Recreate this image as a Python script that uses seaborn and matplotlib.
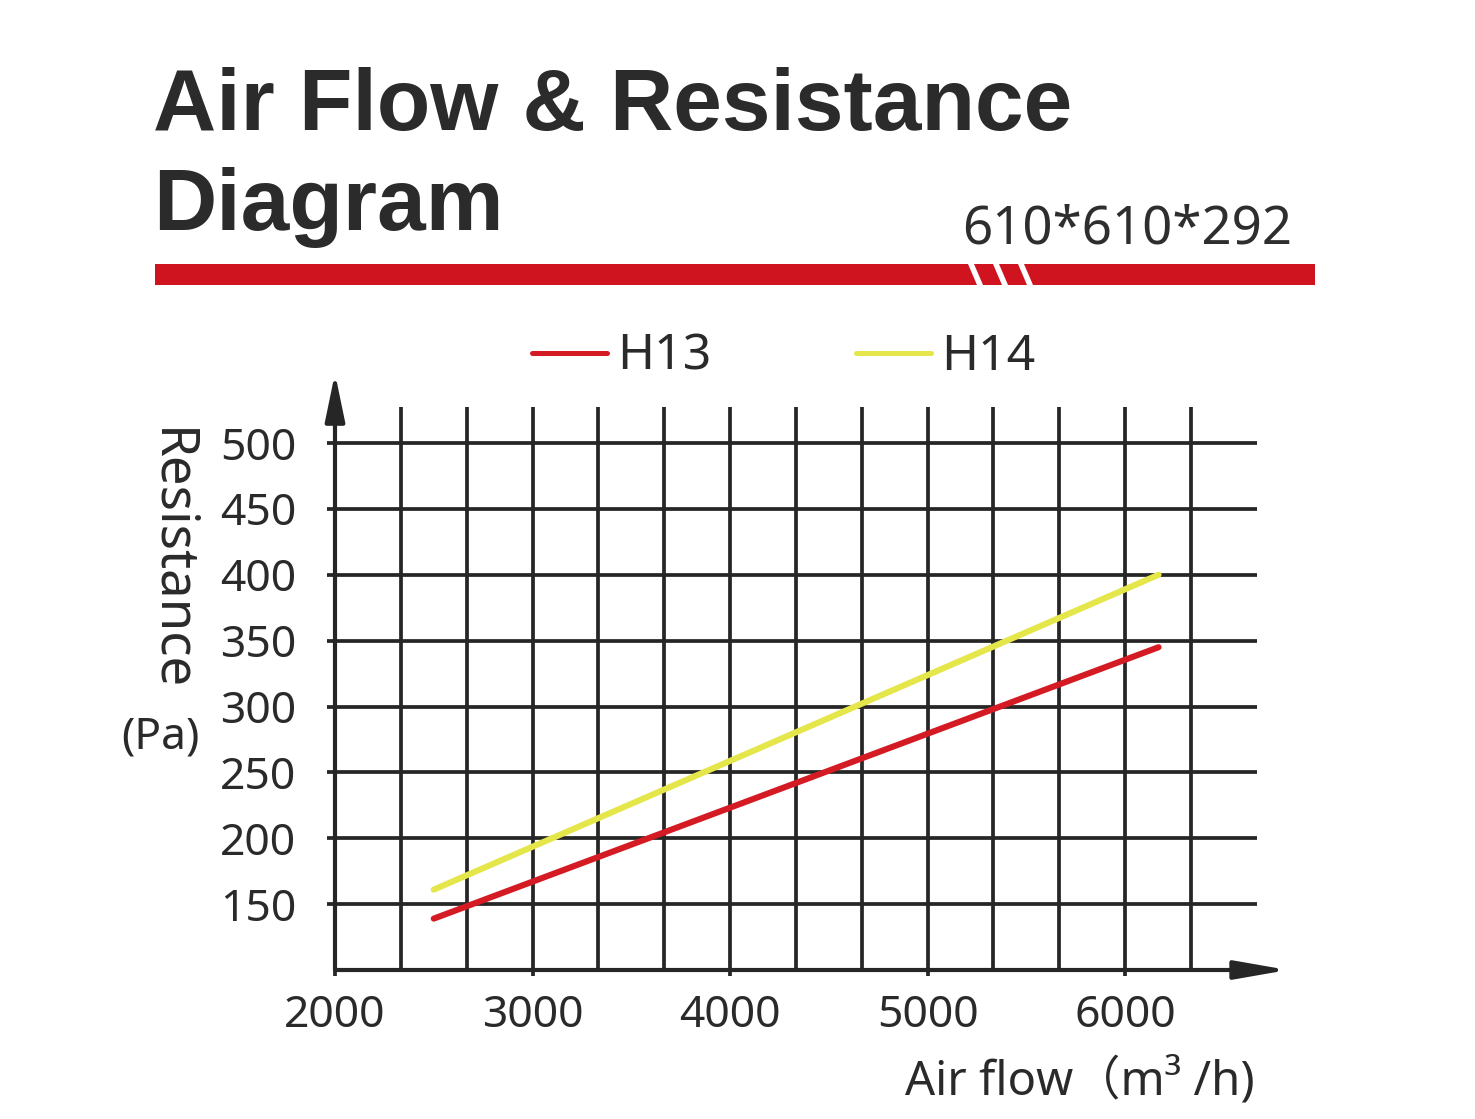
import matplotlib
matplotlib.use("Agg")
import matplotlib.pyplot as plt
import seaborn as sns
import pandas as pd
import numpy as np
from matplotlib.patches import Rectangle, Polygon

# ---------------- data ----------------
models = ["H13", "H14"]
airflow_h13 = [2500, 6170]
resistance_h13 = [139, 345]
airflow_h14 = [2500, 6170]
resistance_h14 = [161, 400]
x_ticks = [2000, 3000, 4000, 5000, 6000]
y_ticks = [150, 200, 250, 300, 350, 400, 450, 500]
x_grid = [2333.3, 2666.7, 3000, 3333.3, 3666.7, 4000, 4333.3, 4666.7,
          5000, 5333.3, 5666.7, 6000, 6333.3]
y_grid = [150, 200, 250, 300, 350, 400, 450, 500]
title_line1 = "Air Flow & Resistance"
title_line2 = "Diagram"
size_label = "610*610*292"
colors = {"H13": "#d41a22", "H14": "#e4e64a"}

df = pd.DataFrame({
    "airflow": airflow_h13 + airflow_h14,
    "resistance": resistance_h13 + resistance_h14,
    "model": ["H13"] * len(airflow_h13) + ["H14"] * len(airflow_h14),
})

# ---------------- figure ----------------
sns.set_theme(style="white")
plt.rcParams["font.family"] = ["Noto Sans", "Noto Sans CJK SC", "DejaVu Sans"]

W, H = 1475, 1119
fig = plt.figure(figsize=(W / 100, H / 100), dpi=100)
fig.patch.set_facecolor("white")

XMIN, XMAX = 2000, 6900
YMIN, YMAX = 100, 560
xs = 0.1975   # px per unit
ys = 1.3175
left_px, bottom_px = 335, 970
ax = fig.add_axes([left_px / W, (H - bottom_px) / H,
                   (XMAX - XMIN) * xs / W, (YMAX - YMIN) * ys / H])
ax.set_xlim(XMIN, XMAX)
ax.set_ylim(YMIN, YMAX)
ax.set_facecolor("white")
for s in ax.spines.values():
    s.set_visible(False)

gc = "#262626"
glw = 2.7
# grid
ax.hlines(y_grid, 2000, 6667, colors=gc, linewidth=glw, clip_on=False, zorder=1)
ax.vlines(x_grid, 100, 527, colors=gc, linewidth=glw, clip_on=False, zorder=1)

# axes with arrows
ax.annotate("", xy=(2000, 553), xytext=(2000, 100),
            arrowprops=dict(arrowstyle="-|>,head_length=1.45,head_width=0.3",
                            mutation_scale=20, color=gc, lw=3.0,
                            shrinkA=0, shrinkB=0), annotation_clip=False, zorder=3)
ax.annotate("", xy=(6825, 100), xytext=(2000, 100),
            arrowprops=dict(arrowstyle="-|>,head_length=1.6,head_width=0.28",
                            mutation_scale=20, color=gc, lw=3.0,
                            shrinkA=0, shrinkB=0), annotation_clip=False, zorder=3)

# data lines
sns.lineplot(data=df, x="airflow", y="resistance", hue="model",
             palette=colors, hue_order=models, linewidth=4.4, ax=ax,
             solid_capstyle="round", zorder=4)

# ticks
ax.set_xticks(x_ticks)
ax.set_xticklabels([str(v) for v in x_ticks])
ax.set_yticks(y_ticks)
ax.set_yticklabels([str(v) for v in y_ticks])
ax.tick_params(axis="y", left=True, length=6, width=glw, color=gc, pad=22,
               labelsize=32, labelcolor="#2a2a2a")
ax.tick_params(axis="x", bottom=True, length=4, width=glw, color=gc, pad=13,
               labelsize=32, labelcolor="#2a2a2a")
ax.set_xlabel("")
ax.set_ylabel("")

# legend
handles, labels = ax.get_legend_handles_labels()
for h in handles:
    h.set_linewidth(3.6)
ax.legend(handles, labels, loc="center left",
          bbox_to_anchor=(532 / W, 1 - 357 / H), bbox_transform=fig.transFigure,
          frameon=False, ncol=2, fontsize=36, handlelength=1.5,
          handletextpad=0.2, columnspacing=2.9, borderpad=0, borderaxespad=0,
          labelcolor="#2a2a2a")

# axis labels
fig.text(170 / W, 1 - 560 / H, "Resistance", rotation=-90, ha="center",
         va="center", fontsize=38, color="#2a2a2a")
fig.text(160 / W, 1 - 737 / H, "(Pa)", ha="center", va="center",
         fontsize=32, color="#2a2a2a")
fig.text(1255 / W, 1 - 1095 / H, "Air flow（m³ /h)", ha="right", va="baseline",
         fontsize=34, color="#2a2a2a",
         family=["Noto Sans", "Noto Sans CJK SC", "DejaVu Sans"])

# title
fig.text(153 / W, 1 - 130 / H, title_line1, ha="left", va="baseline",
         fontsize=63, fontweight="bold", color="#2b2b2b",
         family=["Liberation Sans", "DejaVu Sans"])
fig.text(153 / W, 1 - 230 / H, title_line2, ha="left", va="baseline",
         fontsize=63, fontweight="bold", color="#2b2b2b",
         family=["Liberation Sans", "DejaVu Sans"])
fig.text(1292 / W, 1 - 243 / H, size_label, ha="right", va="baseline",
         fontsize=38, color="#2e2e2e")

# red bar with white slashes
fig.patches.append(Rectangle((155 / W, 1 - 285 / H), (1315 - 155) / W, 21 / H,
                             transform=fig.transFigure, facecolor="#cf1420",
                             edgecolor="none", zorder=1))
for xt in [968, 993, 1018]:
    pts = [(xt / W, 1 - 264 / H), ((xt + 6) / W, 1 - 264 / H),
           ((xt + 15) / W, 1 - 285 / H), ((xt + 9) / W, 1 - 285 / H)]
    fig.patches.append(Polygon(pts, closed=True, transform=fig.transFigure,
                               facecolor="white", edgecolor="none", zorder=2))

fig.savefig("out.png", dpi=100, facecolor="white")
